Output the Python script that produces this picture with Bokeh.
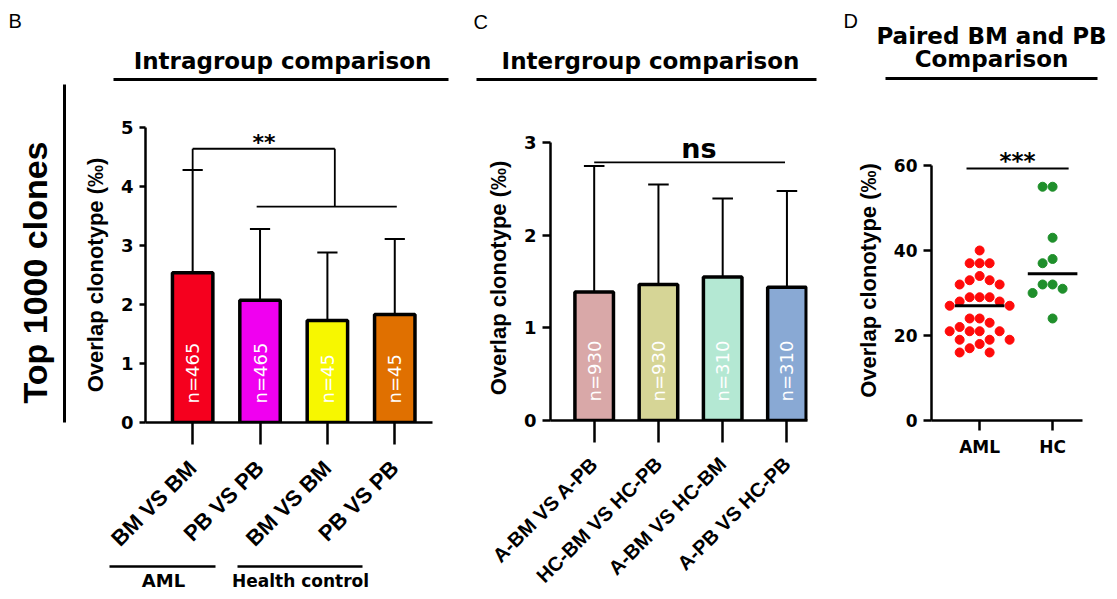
import math
import numpy as np
from bokeh.plotting import figure
from bokeh.models import Range1d, FixedTicker, ColumnDataSource
from bokeh.layouts import row, column
from bokeh.embed import file_html
from bokeh.resources import INLINE
from bokeh.core.properties import value

# ---------------- data ----------------
b_cats = ["BM VS BM", "PB VS PB", "BM VS BM", "PB VS PB"]
b_mean = [2.54, 2.07, 1.73, 1.83]
b_sd = [1.74, 1.21, 1.15, 1.28]
b_n = ["n=465", "n=465", "n=45", "n=45"]
b_colors = ["#f5001e", "#f000f0", "#f7f700", "#e07000"]
b_groups = ["AML", "Health control"]
b_sig = "**"

c_cats = ["A-BM VS A-PB", "HC-BM VS HC-PB", "A-BM VS HC-BM", "A-PB VS HC-PB"]
c_mean = [1.39, 1.47, 1.55, 1.44]
c_sd = [1.36, 1.08, 0.85, 1.04]
c_n = ["n=930", "n=930", "n=310", "n=310"]
c_colors = ["#d9a8a8", "#d6d596", "#b4e8d3", "#89a9d4"]
c_sig = "ns"

d_cats = ["AML", "HC"]
d_aml = [40, 37, 37, 37, 34, 33, 32, 32, 33, 29, 28, 29, 28, 29, 27, 27,
         24, 24, 23, 21, 21, 22, 21, 21, 18, 19, 19, 19, 17, 16, 16]
d_hc = [55, 55, 43, 38, 37, 32, 32, 31, 30, 24]
d_colors = ["#ff0a0a", "#1f8f2b"]
d_sig = "***"

ylab = "Overlap clonotype (\u2030)"
FH = "DejaVu Sans"
FR = "Liberation Sans"


# ---------------- helpers ----------------
def pixfig(w, h):
    p = figure(width=w, height=h, x_range=Range1d(0, w), y_range=Range1d(0, h),
               x_axis_type=None, y_axis_type=None, min_border=0, title=None,
               frame_align=False, output_backend="svg", toolbar_location=None)
    p.outline_line_color = None
    p.background_fill_color = "white"
    p.border_fill_color = "white"
    return p


def ptext(p, x, ytop, s, size, font=FH, style="bold", align="center",
          baseline="middle", angle=0.0, color="black"):
    h = p.height
    p.text(x=[x], y=[h - ytop], text=[s], angle=angle, text_font=value(font),
           text_font_size=f"{size}px", text_font_style=style, text_align=align,
           text_baseline=baseline, text_color=color)


def pline(p, x0, y0, x1, y1, w=3):
    h = p.height
    p.segment(x0=[x0], y0=[h - y0], x1=[x1], y1=[h - y1], line_width=w,
              line_color="black")


def plotfig(w, h, xr, yr, left, right, top, bottom):
    p = figure(width=w, height=h, x_range=Range1d(*xr), y_range=Range1d(*yr),
               min_border_left=left, min_border_right=right,
               min_border_top=top, min_border_bottom=bottom, title=None,
               frame_align=False, output_backend="svg", toolbar_location=None)
    p.outline_line_color = None
    p.xgrid.visible = False
    p.ygrid.visible = False
    p.background_fill_color = "white"
    p.border_fill_color = "white"
    return p


def style_axis(ax, ticks, labels=None, tick_out=8, font=FH, size=18,
               orient="horizontal", standoff=6):
    ax.ticker = FixedTicker(ticks=[float(t) for t in ticks])
    if labels is not None:
        ax.major_label_overrides = {int(t): l for t, l in zip(ticks, labels)}
    ax.axis_line_width = 2.5
    ax.axis_line_color = "black"
    ax.major_tick_line_width = 2.5
    ax.major_tick_line_color = "black"
    ax.major_tick_out = tick_out
    ax.major_tick_in = 0
    ax.minor_tick_out = 0
    ax.minor_tick_in = 0
    ax.minor_tick_line_color = None
    ax.major_label_text_font = font
    ax.major_label_text_font_size = f"{size}px"
    ax.major_label_text_font_style = "bold"
    ax.major_label_text_color = "black"
    ax.major_label_orientation = orient
    ax.major_label_standoff = standoff


def style_ylabel(ax, standoff=10):
    ax.axis_label = ylab
    ax.axis_label_text_font = FR
    ax.axis_label_text_font_size = "22px"
    ax.axis_label_text_font_style = "bold"
    ax.axis_label_text_color = "black"
    ax.axis_label_standoff = standoff


def bars(p, mean, sd, colors, ntext, cap):
    x = np.arange(len(mean))
    m = np.array(mean, dtype=float)
    up = m + np.array(sd, dtype=float)
    src = ColumnDataSource(dict(x=x, top=m, up=up, color=colors, n=ntext,
                                cl=x - cap, cr=x + cap))
    p.segment(x0="x", y0="top", x1="x", y1="up", line_width=2,
              line_color="black", source=src)
    p.segment(x0="cl", y0="up", x1="cr", y1="up", line_width=2,
              line_color="black", source=src)
    p.vbar(x="x", top="top", bottom=0, width=0.6, fill_color="color",
           line_color="black", line_width=3.5, source=src)
    p.text(x="x", y=0, text="n", angle=math.pi / 2, text_align="left",
           text_baseline="middle", y_offset=-19, text_color="white",
           text_font=value(FH), text_font_size="18px", source=src)
    return x, up


def swarm(vals, center, px_x, px_y, diam=10.0, step=5.0):
    v = np.array(vals, dtype=float)
    order = np.argsort(-v, kind="stable")
    placed = []
    xs = np.zeros(len(v))
    cands = [0.0]
    for k in range(1, 12):
        cands += [-k * step, k * step]
    for i in order:
        yp = v[i] * px_y
        for c in cands:
            if all((c - a) ** 2 + (yp - b) ** 2 >= diam ** 2 for a, b in placed):
                placed.append((c, yp))
                xs[i] = center + c / px_x
                break
    return xs


# ---------------- left strip ----------------
L = pixfig(75, 599)
ptext(L, 8, 20, "B", 20, font=FR, style="normal", align="left")
ptext(L, 34, 272, "Top 1000 clones", 34, font=FR, angle=math.pi / 2)
pline(L, 64, 84, 64, 422, w=3)

# ---------------- panel B ----------------
TB = pixfig(385, 88)
ptext(TB, 207, 60, "Intragroup comparison", 23)
pline(TB, 38, 79, 373, 79, w=3)

PB = plotfig(385, 476, (-0.7, 3.56), (0, 5), 70, 28, 39, 142)
xb, upb = bars(PB, b_mean, b_sd, b_colors, b_n, 0.15)
style_axis(PB.xaxis[0], xb, b_cats, tick_out=22, font=FR, size=22,
           orient=math.pi / 4, standoff=20)
style_axis(PB.yaxis[0], range(0, 6), tick_out=6, size=18)
style_ylabel(PB.yaxis[0])
ytop_b = 4.64
PB.segment(x0=[xb[0], xb[0], 2.11, 0.95], y0=[upb[0], ytop_b, ytop_b, 3.66],
           x1=[xb[0], 2.11, 2.11, 3.03], y1=[ytop_b, ytop_b, 3.66, 3.66],
           line_width=1.8, line_color="black")
PB.text(x=[1.06], y=[ytop_b], text=[b_sig], text_align="center",
        text_baseline="middle", y_offset=-6, text_font=value(FH),
        text_font_size="22px", text_font_style="bold")

GB = pixfig(385, 35)
pline(GB, 34, 2, 140, 2, w=2.5)
pline(GB, 162, 2, 287, 2, w=2.5)
ptext(GB, 88, 16, b_groups[0], 18)
ptext(GB, 225, 16, b_groups[1], 17)

# ---------------- panel C ----------------
TC = pixfig(380, 88)
ptext(TC, 13, 21, "C", 20, font=FR, style="normal", align="left")
ptext(TC, 190, 60, "Intergroup comparison", 23)
pline(TC, 16, 79, 356, 79, w=3)

PC = plotfig(380, 511, (-0.68, 3.32), (0, 3.08), 90, 33, 47, 179)
xc, upc = bars(PC, c_mean, c_sd, c_colors, c_n, 0.16)
style_axis(PC.xaxis[0], xc, c_cats, tick_out=22, font=FR, size=20,
           orient=math.pi / 4, standoff=18)
style_axis(PC.yaxis[0], range(0, 4), tick_out=8, size=18)
style_ylabel(PC.yaxis[0])
PC.yaxis[0].bounds = (0, 3)
PC.segment(x0=[xc[0]], y0=[2.79], x1=[2.97], y1=[2.79], line_width=1.8,
           line_color="black")
PC.text(x=[1.63], y=[2.79], text=[c_sig], text_align="center",
        text_baseline="middle", y_offset=-14, text_font=value(FH),
        text_font_size="27px", text_font_style="bold")

# ---------------- panel D ----------------
TD = pixfig(277, 88)
ptext(TD, 3, 20, "D", 20, font=FR, style="normal", align="left")
ptext(TD, 151, 35, "Paired BM and PB", 23)
ptext(TD, 151, 58, "Comparison", 23)
pline(TD, 45, 78, 257, 78, w=3)

PD = plotfig(277, 511, (-0.66, 1.41), (0, 65.88), 91, 35, 52, 179)
pxx, pxy = 73.0, 4.25
ax_aml = swarm(d_aml, 0, pxx, pxy)
ax_hc = swarm(d_hc, 1, pxx, pxy)
PD.scatter(x=ax_aml, y=d_aml, size=9, color=d_colors[0])
PD.scatter(x=ax_hc, y=d_hc, size=9, color=d_colors[1])
meds = [float(np.median(d_aml)), float(np.median(d_hc))]
PD.segment(x0=[-0.34, 0.66], y0=meds, x1=[0.34, 1.34], y1=meds,
           line_width=3, line_color="black")
PD.segment(x0=[-0.18], y0=[59.3], x1=[1.22], y1=[59.3], line_width=2,
           line_color="black")
PD.text(x=[0.52], y=[59.3], text=[d_sig], text_align="center",
        text_baseline="middle", y_offset=-7, text_font=value(FH),
        text_font_size="23px", text_font_style="bold")
style_axis(PD.xaxis[0], [0, 1], d_cats, tick_out=10, size=17, standoff=6)
style_axis(PD.yaxis[0], [0, 20, 40, 60], tick_out=8, size=17)
style_ylabel(PD.yaxis[0])
PD.yaxis[0].bounds = (0, 60)

layout = row(L, column(TB, PB, GB), column(TC, PC), column(TD, PD))
open("out.html", "w").write(file_html(layout, INLINE))
